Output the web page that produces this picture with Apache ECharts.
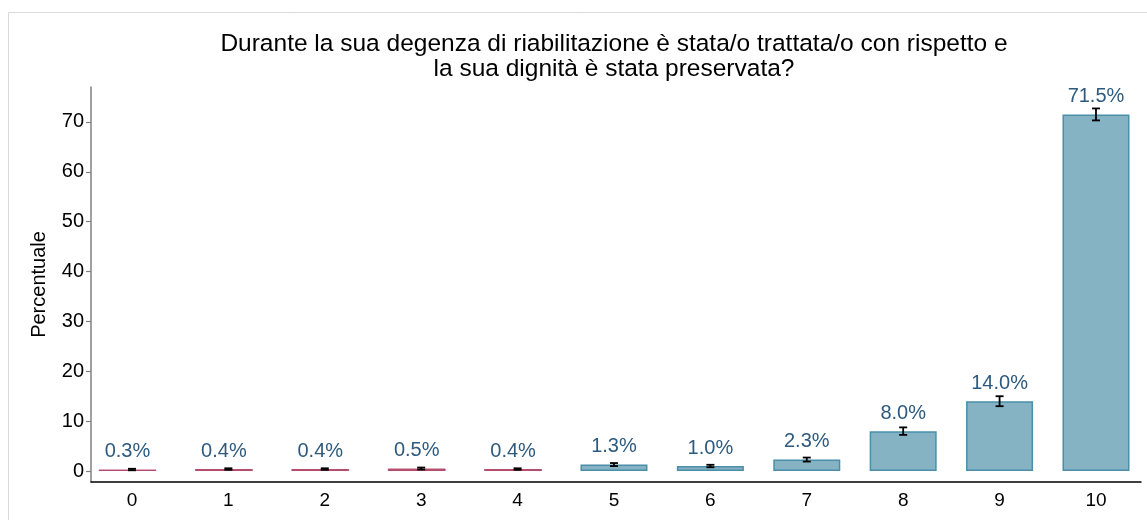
<!DOCTYPE html>
<html>
<head>
<meta charset="utf-8">
<script src="https://cdn.jsdelivr.net/npm/echarts@6/dist/echarts.min.js"></script>
<style>
  html, body { margin: 0; padding: 0; background: #fff; }
  #chart { width: 1147px; height: 520px; }
</style>
</head>
<body>
<div id="chart"></div>
<script>
// punteggi 0..10
var categories = [0, 1, 2, 3, 4, 5, 6, 7, 8, 9, 10];
var percentages = [0.3, 0.4, 0.4, 0.5, 0.4, 1.3, 1.0, 2.3, 8.0, 14.0, 71.5];
var errors = [0.15, 0.15, 0.15, 0.2, 0.15, 0.3, 0.25, 0.4, 0.75, 1.0, 1.2];
var lowScores = [0, 1, 2, 3, 4];   // barre rosse
var yTicks = [0, 10, 20, 30, 40, 50, 60, 70];

var FONT = 'Liberation Sans, Arial, sans-serif';

var redData = [], blueData = [], errData = [];
categories.forEach(function (c, i) {
    var pt = [c, percentages[i]];
    if (lowScores.indexOf(c) >= 0) redData.push(pt); else blueData.push(pt);
    errData.push([c, percentages[i] - errors[i], percentages[i] + errors[i]]);
});

var labelStyle = {
    show: true,
    position: 'top',
    distance: 8,
    color: '#2d5a7e',
    fontSize: 20,
    fontFamily: FONT,
    formatter: function (p) { return p.value[1].toFixed(1) + '%'; }
};

var chart = echarts.init(document.getElementById('chart'));
var option = {
    animation: false,
    backgroundColor: '#fff',
    graphic: [{
        type: 'rect',
        shape: {x: 8.5, y: 12.5, width: 1150, height: 520},
        style: {fill: null, stroke: '#d9d9d9', lineWidth: 1},
        z: -1
    }, {
        type: 'text',
        x: 614, y: 32,
        style: {
            text: 'Durante la sua degenza di riabilitazione è stata/o trattata/o con rispetto e\nla sua dignità è stata preservata?',
            font: '24.5px ' + FONT,
            fill: '#000',
            textAlign: 'center',
            lineHeight: 25
        }
    }],
    grid: {left: 91, right: 6, top: 87, bottom: 38},
    xAxis: {
        type: 'value',
        min: -0.425,
        max: 10.467,
        splitLine: {show: false},
        axisLine: {show: true, onZero: false, lineStyle: {color: '#000', width: 1.5}},
        axisTick: {show: false},
        axisLabel: {
            customValues: categories,
            color: '#000',
            fontSize: 19,
            fontFamily: FONT,
            margin: 9
        }
    },
    yAxis: {
        type: 'value',
        min: -2.2,
        max: 77,
        name: 'Percentuale',
        nameLocation: 'middle',
        nameGap: 42,
        nameTextStyle: {color: '#000', fontSize: 20, fontFamily: FONT},
        splitLine: {show: false},
        axisLine: {show: true, onZero: false, lineStyle: {color: '#808080', width: 1.5}},
        axisTick: {show: true, customValues: yTicks, length: 5, lineStyle: {color: '#808080', width: 1.2}},
        axisLabel: {
            customValues: yTicks,
            color: '#000',
            fontSize: 20,
            fontFamily: FONT,
            margin: 7
        }
    },
    series: [{
        type: 'bar',
        data: redData,
        barWidth: 58,
        barGap: '-100%',
        itemStyle: {color: '#b44d6d', borderColor: '#b44d6d', borderWidth: 1},
        label: labelStyle
    }, {
        type: 'bar',
        data: blueData,
        barWidth: 67,
        barGap: '-100%',
        itemStyle: {color: '#86b3c4', borderColor: '#4a8ea8', borderWidth: 1.5},
        label: labelStyle
    }, {
        type: 'custom',
        data: errData,
        z: 5,
        renderItem: function (params, api) {
            var x = api.value(0);
            var lo = api.coord([x, api.value(1)]);
            var hi = api.coord([x, api.value(2)]);
            var w = 4;
            var st = {stroke: '#000', lineWidth: 1.8};
            return {
                type: 'group',
                children: [
                    {type: 'line', shape: {x1: lo[0], y1: lo[1], x2: hi[0], y2: hi[1]}, style: st},
                    {type: 'line', shape: {x1: lo[0] - w, y1: lo[1], x2: lo[0] + w, y2: lo[1]}, style: st},
                    {type: 'line', shape: {x1: hi[0] - w, y1: hi[1], x2: hi[0] + w, y2: hi[1]}, style: st}
                ]
            };
        }
    }]
};
chart.setOption(option);
</script>
</body>
</html>
